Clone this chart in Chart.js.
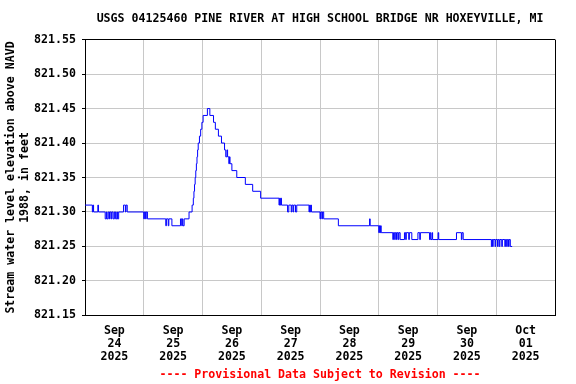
<!DOCTYPE html>
<html>
<head>
<meta charset="utf-8">
<script src="https://cdn.jsdelivr.net/npm/chart.js@4.4.1/dist/chart.umd.min.js"></script>
<style>
  body { margin: 0; background: #fff; }
  canvas { display: block; }
</style>
</head>
<body>
<canvas id="chart" width="576" height="384"></canvas>
<script>
// hours since Sep 24 2025 00:00, each level holds until the next entry
const levelHours = [
    0, 3.0, 3.25, 3.5, 5.25, 5.5, 8.25, 8.75, 9.0, 9.5, 10.0, 10.25, 10.75, 11.0, 11.5, 12.0, 12.5, 13.0, 13.25, 13.75,
    15.75, 16.5, 16.75, 17.25, 24.0, 24.25, 24.75, 25.0, 25.5,
    33.0, 33.25, 34.0, 34.25, 35.5, 39.0, 39.5, 39.75, 40.0, 40.5, 42.5,
    43.75, 44.25, 44.5, 44.75, 45.0, 45.25, 45.5, 45.75, 46.0, 46.25, 46.75, 47.25, 47.75, 48.25, 50.0,
    51.0, 52.5, 53.25, 54.5, 55.75, 57.0, 57.5, 58.0, 58.25, 58.75, 59.0, 59.25, 60.0, 62.0, 65.5, 68.5, 71.75,
    79.25, 79.5, 79.75, 80.0, 80.25, 82.75, 83.25, 84.25, 84.5, 85.0, 85.25, 86.0, 86.5,
    91.5, 91.75, 92.0, 92.25, 92.5, 96.0, 96.25, 96.75, 97.0, 97.5, 103.5, 116.25, 116.5,
    120.0, 120.25, 120.5, 120.75, 121.0,
    125.75, 126.0, 126.5, 126.75, 127.25, 127.5, 128.0, 128.25, 128.75, 130.5, 131.0, 131.25, 132.25, 132.5, 133.5,
    136.0, 136.75, 137.0, 140.75, 141.0, 141.25, 141.75, 142.0, 144.25, 144.5, 151.75, 153.75, 154.0, 154.5,
    166.0, 166.25, 166.5, 166.75, 167.5, 167.75, 168.5, 168.75, 169.25, 169.5, 170.25, 170.5, 171.5, 171.75,
    172.25, 172.5, 173.0, 173.25, 173.75, 174.5
];
const levelFeet = [
    821.31, 821.30, 821.31, 821.30, 821.31, 821.30, 821.29, 821.30, 821.29, 821.30, 821.29, 821.30, 821.29, 821.30, 821.29, 821.30, 821.29, 821.30, 821.29, 821.30,
    821.31, 821.30, 821.31, 821.30, 821.29, 821.30, 821.29, 821.30, 821.29,
    821.28, 821.29, 821.28, 821.29, 821.28, 821.29, 821.28, 821.29, 821.28, 821.29, 821.30,
    821.31, 821.32, 821.33, 821.34, 821.35, 821.36, 821.37, 821.38, 821.39, 821.40, 821.41, 821.42, 821.43, 821.44, 821.45,
    821.44, 821.43, 821.42, 821.41, 821.40, 821.39, 821.38, 821.39, 821.38, 821.37, 821.38, 821.37, 821.36, 821.35, 821.34, 821.33, 821.32,
    821.31, 821.32, 821.31, 821.32, 821.31, 821.30, 821.31, 821.30, 821.31, 821.30, 821.31, 821.30, 821.31,
    821.30, 821.31, 821.30, 821.31, 821.30, 821.29, 821.30, 821.29, 821.30, 821.29, 821.28, 821.29, 821.28,
    821.27, 821.28, 821.27, 821.28, 821.27,
    821.26, 821.27, 821.26, 821.27, 821.26, 821.27, 821.26, 821.27, 821.26, 821.27, 821.26, 821.27, 821.26, 821.27, 821.26,
    821.27, 821.26, 821.27, 821.26, 821.27, 821.26, 821.27, 821.26, 821.27, 821.26, 821.27, 821.26, 821.27, 821.26,
    821.25, 821.26, 821.25, 821.26, 821.25, 821.26, 821.25, 821.26, 821.25, 821.26, 821.25, 821.26, 821.25, 821.26,
    821.25, 821.26, 821.25, 821.26, 821.25, 821.25
];

const tickMonths = ["Sep", "Sep", "Sep", "Sep", "Sep", "Sep", "Sep", "Oct"];
const tickDays = ["24", "25", "26", "27", "28", "29", "30", "01"];
const tickYear = "2025";

const monoFont = { family: "'DejaVu Sans Mono', monospace", size: 11.6, weight: "bold" };

const points = levelHours.map((h, i) => ({ x: h, y: levelFeet[i] }));

new Chart(document.getElementById("chart"), {
    type: "line",
    data: {
        datasets: [{
            data: points,
            borderColor: "#0000ff",
            borderWidth: 1,
            pointRadius: 0,
            stepped: true,
            fill: false,
        }],
    },
    options: {
        responsive: false,
        animation: false,
        layout: { padding: { left: 4, right: 21, top: 0, bottom: 0 } },
        plugins: {
            legend: { display: false },
            tooltip: { enabled: false },
            title: {
                display: true,
                fullSize: false,
                text: "USGS 04125460 PINE RIVER AT HIGH SCHOOL BRIDGE NR HOXEYVILLE, MI",
                color: "#000",
                font: { ...monoFont, lineHeight: 1 },
                padding: { top: 13, bottom: 15 },
            },
            subtitle: {
                display: true,
                position: "bottom",
                fullSize: false,
                text: "---- Provisional Data Subject to Revision ----",
                color: "#ff0000",
                font: { ...monoFont, lineHeight: 1 },
                padding: { top: 5, bottom: 3 },
            },
        },
        scales: {
            x: {
                type: "linear",
                min: 0,
                max: 192,
                afterFit: scale => { scale.height = 49; },
                border: { color: "#000", width: 1 },
                grid: {
                    drawTicks: false,
                    color: ctx => {
                        const v = ctx.tick ? ctx.tick.value : 0;
                        if (v === 192) return "#000";
                        return v % 24 === 0 ? "#c8c8c8" : "rgba(0,0,0,0)";
                    },
                },
                ticks: {
                    stepSize: 12,
                    autoSkip: false,
                    maxRotation: 0,
                    color: "#000",
                    font: { ...monoFont, lineHeight: 1.12 },
                    padding: 9,
                    callback: value => {
                        if (value % 24 !== 12) return "";
                        const i = (value - 12) / 24;
                        return [tickMonths[i], tickDays[i], tickYear];
                    },
                },
            },
            y: {
                min: 821.15,
                max: 821.55,
                afterFit: scale => { scale.width = 81; },
                border: { color: "#000", width: 1 },
                grid: {
                    tickLength: 3,
                    tickColor: "#000",
                    color: ctx => (ctx.tick && Math.abs(ctx.tick.value - 821.55) < 1e-6) ? "#000" : "#c8c8c8",
                },
                ticks: {
                    stepSize: 0.05,
                    color: "#000",
                    font: monoFont,
                    padding: 6,
                    callback: value => value.toFixed(2),
                },
                title: {
                    display: true,
                    text: ["Stream water level elevation above NAVD", "1988, in feet"],
                    color: "#000",
                    font: { ...monoFont, lineHeight: 1.2 },
                    padding: { top: 0, bottom: 3 },
                },
            },
        },
    },
});
</script>
</body>
</html>
